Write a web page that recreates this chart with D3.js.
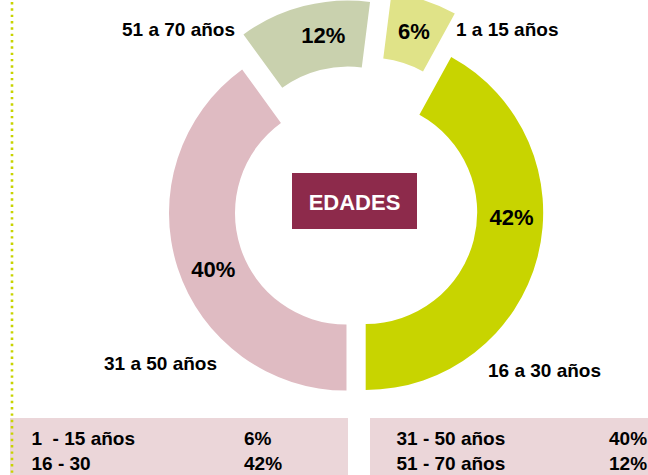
<!DOCTYPE html>
<html lang="es">
<head>
<meta charset="utf-8">
<title>Edades</title>
<script src="https://cdn.jsdelivr.net/npm/d3@7"></script>
<style>
  html, body { margin: 0; padding: 0; background: #ffffff; }
  svg { display: block; }
  text { font-family: "Liberation Sans", Arial, sans-serif; font-weight: bold; }
</style>
</head>
<body>
<svg id="chart" width="648" height="475"></svg>
<script>
// Age groups and their share (%)
const categories   = ["1  - 15 años", "16 - 30", "31 - 50 años", "51 - 70 años"];
const ringLabels   = ["1 a 15 años", "16 a 30 años", "31 a 50 años", "51 a 70 años"];
const values       = [6, 42, 40, 12];
const sliceColors  = ["#e0e388", "#c8d400", "#dfbbc2", "#c9d1ae"];
const centerTitle  = "EDADES";

// Layout
const W = 648, H = 475;
const cx = 356, cy = 210;
const outerR = 177.5, innerR = 111.5;
const rotation = 7.2 * Math.PI / 180;          // start of the first slice, clockwise from 12 o'clock
const explode = [43, 10, 10, 33];              // how far each slice is pulled out along its bisector
const labelShiftDeg = [0, -12.7, -4.8, 4.6];   // nudges the % label along the ring
const labelR = [144.5, 146, 144.5, 144.5];
const ringLabelPos = [
  { x: 456, y: 36, anchor: "start" },
  { x: 488, y: 377, anchor: "start" },
  { x: 104, y: 370, anchor: "start" },
  { x: 122, y: 36, anchor: "start" }
];

const svg = d3.select("#chart");
svg.append("rect").attr("width", W).attr("height", H).attr("fill", "#ffffff");

const pie = d3.pie().sort(null).value(d => d)
  .startAngle(rotation).endAngle(rotation + 2 * Math.PI);
const arcs = pie(values);
const arc = d3.arc().innerRadius(innerR).outerRadius(outerR);

const ring = svg.append("g").attr("transform", `translate(${cx},${cy})`);

const slices = ring.selectAll("g.slice")
  .data(arcs)
  .join("g")
  .attr("class", "slice")
  .attr("transform", (d, i) => {
    const mid = (d.startAngle + d.endAngle) / 2;
    return `translate(${explode[i] * Math.sin(mid)},${-explode[i] * Math.cos(mid)})`;
  });

slices.append("path")
  .attr("d", arc)
  .attr("fill", (d, i) => sliceColors[i]);

slices.append("text")
  .attr("x", (d, i) => {
    const a = (d.startAngle + d.endAngle) / 2 + labelShiftDeg[i] * Math.PI / 180;
    return labelR[i] * Math.sin(a);
  })
  .attr("y", (d, i) => {
    const a = (d.startAngle + d.endAngle) / 2 + labelShiftDeg[i] * Math.PI / 180;
    return -labelR[i] * Math.cos(a);
  })
  .attr("dy", "0.35em")
  .attr("text-anchor", "middle")
  .attr("font-size", 22)
  .attr("fill", "#000")
  .text(d => d.value + "%");

// Centre title
const titleG = svg.append("g");
titleG.append("rect")
  .attr("x", 292).attr("y", 173).attr("width", 125).attr("height", 56)
  .attr("fill", "#8d2a4b");
titleG.append("text")
  .attr("x", 354.5).attr("y", 210)
  .attr("text-anchor", "middle")
  .attr("font-size", 22)
  .attr("fill", "#ffffff")
  .text(centerTitle);

// Age range names around the ring
svg.selectAll("text.ring-label")
  .data(ringLabels)
  .join("text")
  .attr("class", "ring-label")
  .attr("x", (d, i) => ringLabelPos[i].x)
  .attr("y", (d, i) => ringLabelPos[i].y)
  .attr("text-anchor", (d, i) => ringLabelPos[i].anchor)
  .attr("font-size", 19)
  .attr("fill", "#000")
  .text(d => d);

// Legend table: two boxes, two rows each
const legendBoxes = [
  { x: 10, y: 418, w: 338, h: 57, nameX: 31.5, valX: 244 },
  { x: 370, y: 418, w: 290, h: 57, nameX: 396.5, valX: 609 }
];
const rowBaselines = [444.5, 469.5];

legendBoxes.forEach((b, bi) => {
  svg.append("rect")
    .attr("x", b.x).attr("y", b.y).attr("width", b.w).attr("height", b.h)
    .attr("fill", "#ebd6d9");
  const rows = d3.range(2).map(k => bi * 2 + k);
  const g = svg.append("g");
  g.selectAll("text.name")
    .data(rows)
    .join("text")
    .attr("class", "name")
    .attr("x", b.nameX)
    .attr("y", (d, k) => rowBaselines[k])
    .attr("font-size", 19)
    .style("white-space", "pre")
    .attr("fill", "#000")
    .text(d => categories[d]);
  g.selectAll("text.val")
    .data(rows)
    .join("text")
    .attr("class", "val")
    .attr("x", b.valX)
    .attr("y", (d, k) => rowBaselines[k])
    .attr("font-size", 19)
    .attr("fill", "#000")
    .text(d => values[d] + "%");
});

// Dotted guide on the left edge
svg.append("line")
  .attr("x1", 12).attr("x2", 12)
  .attr("y1", 2).attr("y2", H)
  .attr("stroke", "#c8d400")
  .attr("stroke-width", 2.6)
  .attr("stroke-dasharray", "2.4 3.93");
</script>
</body>
</html>
